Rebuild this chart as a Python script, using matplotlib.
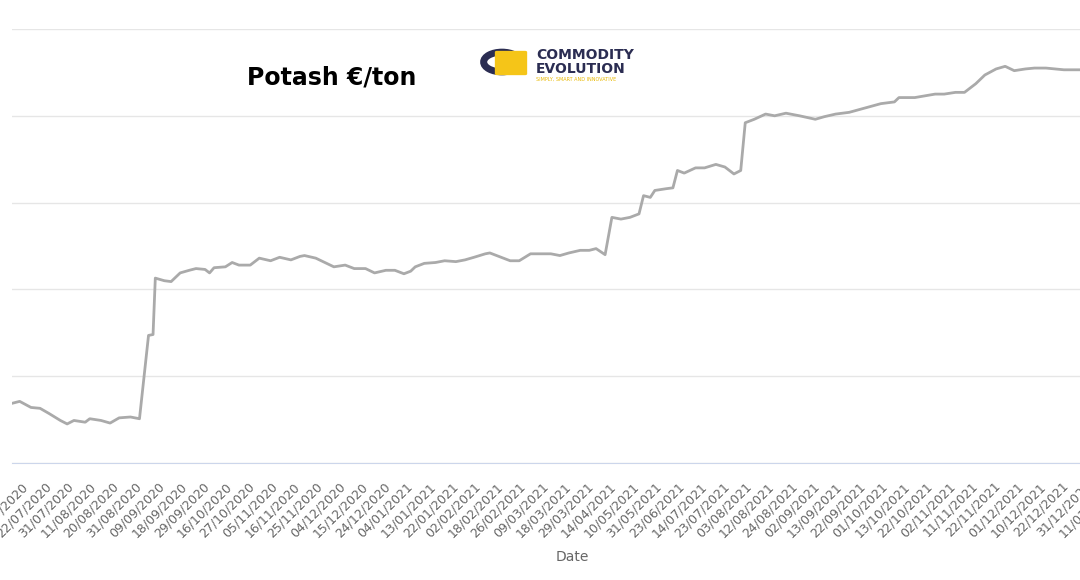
import matplotlib
matplotlib.use("Agg")
import matplotlib.pyplot as plt
from matplotlib.patches import Circle, FancyBboxPatch

obs = [-4,-1,4,8,12,17,20,23,28,30,35,39,43,48,52,56,58,59,63,66,70,74,77,81,83,85,90,93,96,101,
       105,110,114,119,123,125,130,134,138,143,147,152,156,161,165,169,172,174,178,183,187,192,196,200,
       205,207,212,216,220,225,229,234,238,242,247,251,254,258,261,265,269,273,275,278,280,285,288,290,
       293,298,302,307,311,315,318,320,324,329,333,338,344,351,355,360,366,373,380,386,388,395,404,408,
       413,417,422,426,431,435,439,444,448,453,457,461,468]
price = [269,271,264,263,257,249,245,249,247,251,249,246,252,253,251,347,348,413,410,409,419,422,424,423,419,
         425,426,431,428,428,436,433,437,434,438,439,436,431,426,428,424,424,419,422,422,418,421,426,430,431,
         433,432,434,437,441,442,437,433,433,441,441,441,439,442,445,445,447,440,483,481,483,487,508,506,514,
         516,517,537,534,540,540,544,541,533,537,592,596,602,600,603,600,596,599,602,604,609,614,616,621,621,
         625,625,627,627,637,647,654,657,652,654,655,655,654,653,653]
tick_labels = ["13/07/2020","22/07/2020","31/07/2020","11/08/2020","20/08/2020","31/08/2020","09/09/2020",
    "18/09/2020","29/09/2020","16/10/2020","27/10/2020","05/11/2020","16/11/2020","25/11/2020","04/12/2020",
    "15/12/2020","24/12/2020","04/01/2021","13/01/2021","22/01/2021","02/02/2021","18/02/2021","26/02/2021",
    "09/03/2021","18/03/2021","29/03/2021","14/04/2021","10/05/2021","31/05/2021","23/06/2021","14/07/2021",
    "23/07/2021","03/08/2021","12/08/2021","24/08/2021","02/09/2021","13/09/2021","22/09/2021","01/10/2021",
    "13/10/2021","22/10/2021","02/11/2021","11/11/2021","22/11/2021","01/12/2021","10/12/2021","22/12/2021",
    "31/12/2021","11/01/2022"]
yticks = [200,300,400,500,600,700]

x0, x1 = -4.4, 490.0
pxw = 1068 / (468.1 - x0) * (x1 - x0)
fig = plt.figure(figsize=(10.8,5.8), dpi=100)
ax = fig.add_axes([12/1080, 117/580, pxw/1080, 434/580])
ax.plot(obs, price, color="#aaaaaa", lw=2)
ax.set_yticks(yticks)
ax.set_yticklabels([])
ax.tick_params(axis="y", length=0)
ax.grid(axis="y", color="#e6e6e6", lw=1)
for s in ["top","right","left"]:
    ax.spines[s].set_visible(False)
ax.spines["bottom"].set_color("#ccd6eb")
ax.set_xticks([10*i for i in range(len(tick_labels))])
ax.set_xticklabels(tick_labels, rotation=45, ha="right", rotation_mode="anchor",
                   fontsize=9, color="#666666")
ax.tick_params(axis="x", length=0, pad=12)
ax.set_xlim(x0, x1)
ax.set_ylim(200, 700)
ax.set_xlabel("Date", fontsize=10, color="#666666")
ax.xaxis.set_label_coords(560/pxw, -87/434)

fig.text(332/1080, 1-78/580, "Potash €/ton", fontsize=17, fontweight="bold", ha="center", va="center")
# logo
fig.patches.append(Circle((502/1080, 1-62/580), 0.017, transform=fig.transFigure,
                          facecolor="white", edgecolor="#2b2d52", lw=5))
fig.patches.append(FancyBboxPatch((497/1080, 1-74/580), 28/1080, 22/580, transform=fig.transFigure,
                          boxstyle="round,pad=0.002", facecolor="#f5c518", edgecolor="none"))
fig.text(536/1080, 1-55/580, "COMMODITY", fontsize=10, color="#2b2d52", va="center", fontweight="bold")
fig.text(536/1080, 1-69/580, "EVOLUTION", fontsize=10, color="#2b2d52", va="center", fontweight="bold")
fig.text(536/1080, 1-79/580, "SIMPLY, SMART AND INNOVATIVE", fontsize=3.5, color="#e8b800", va="center")
fig.savefig("out.png", dpi=100)
